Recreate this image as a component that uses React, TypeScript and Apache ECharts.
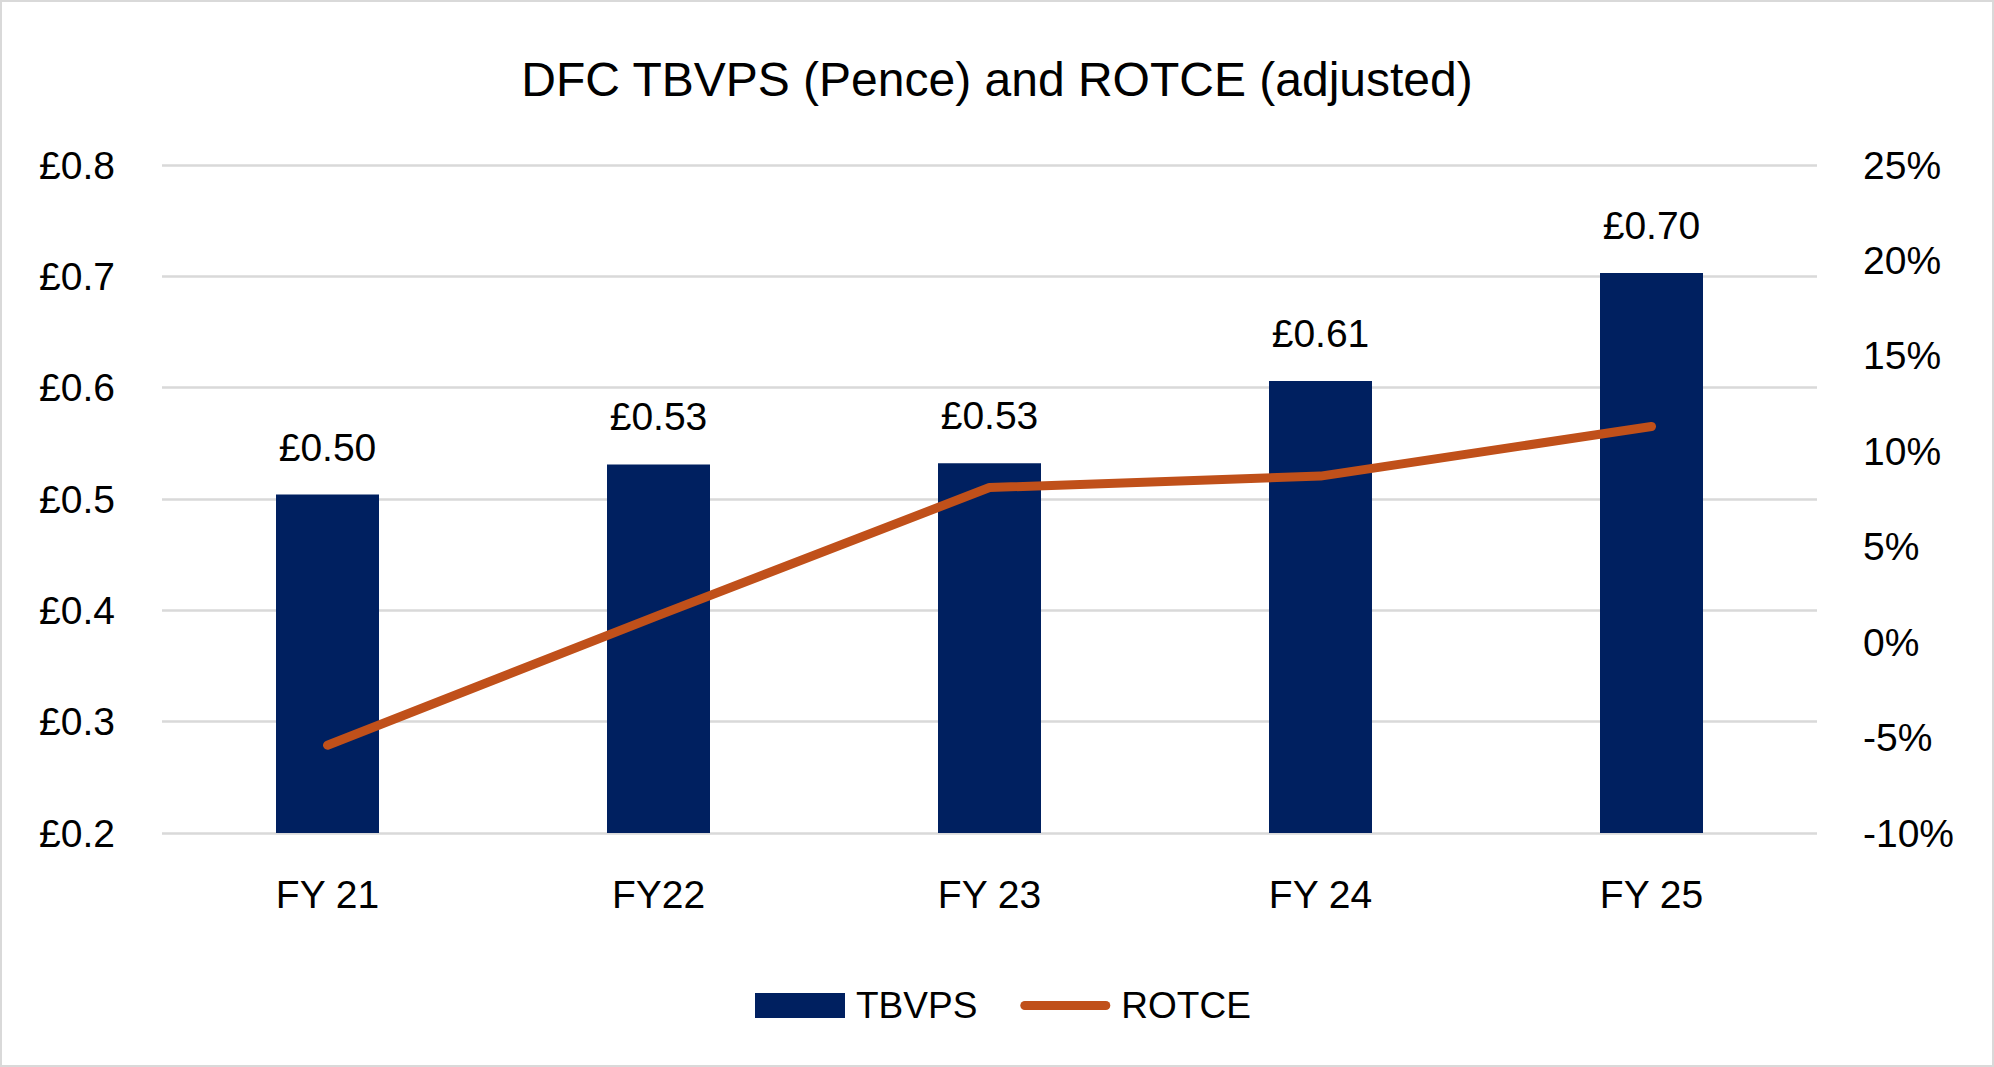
import React, { useEffect, useRef } from 'react';
import * as echarts from 'echarts';

const categories = ['FY 21', 'FY22', 'FY 23', 'FY 24', 'FY 25'];
const tbvps = [0.504, 0.531, 0.532, 0.606, 0.703];
const rotce = [-5.4, 1.4, 8.1, 8.7, 11.3];

const FONT = '"Liberation Sans", Arial, sans-serif';
const W = 1994;
const H = 1067;
const ORANGE = '#c0501a';
const NAVY = '#002060';

const App: React.FC = () => {
  const chartRef = useRef<HTMLDivElement>(null);

  useEffect(() => {
    document.body.style.margin = '0';
    if (!chartRef.current) return;
    const chart = echarts.init(chartRef.current, undefined, { renderer: 'svg' });
    chart.setOption({
      animation: false,
      backgroundColor: '#fff',
      textStyle: { fontFamily: FONT, color: '#000' },
      title: {
        text: 'DFC TBVPS (Pence) and ROTCE (adjusted)',
        left: 'center',
        top: 50,
        textStyle: { fontFamily: FONT, fontSize: 48, fontWeight: 'normal', color: '#000' },
      },
      graphic: [
        {
          type: 'rect',
          shape: { x: 1, y: 1, width: W - 2, height: H - 2 },
          style: { fill: 'none', stroke: '#d9d9d9', lineWidth: 2 },
          silent: true,
        },
      ],
      legend: {
        left: 750,
        top: 982,
        itemWidth: 90,
        itemHeight: 25,
        itemGap: 43,
        textStyle: { fontFamily: FONT, fontSize: 37, color: '#000', padding: [0, 0, 0, 6] },
        data: [
          { name: 'TBVPS', icon: 'rect', itemStyle: { color: NAVY } },
          {
            name: 'ROTCE',
            icon: 'path://M4.5,0 H85.5 A4.5,4.5 0 0 1 85.5,9 H4.5 A4.5,4.5 0 0 1 4.5,0 Z',
            itemStyle: { color: ORANGE },
          },
        ],
      },
      grid: { left: 162, right: 177, top: 165, bottom: 234, containLabel: false },
      xAxis: {
        type: 'category',
        data: categories,
        axisLine: { show: false },
        axisTick: { show: false },
        axisLabel: { fontFamily: FONT, fontSize: 39, color: '#000', margin: 42 },
      },
      yAxis: [
        {
          type: 'value',
          min: 0.2,
          max: 0.8,
          interval: 0.1,
          axisLine: { show: false },
          axisTick: { show: false },
          splitLine: { lineStyle: { color: '#d9d9d9', width: 2.5 } },
          axisLabel: {
            fontFamily: FONT,
            fontSize: 39,
            color: '#000',
            margin: 47,
            formatter: (v: number) => '£' + v.toFixed(1),
          },
        },
        {
          type: 'value',
          min: -10,
          max: 25,
          interval: 5,
          axisLine: { show: false },
          axisTick: { show: false },
          splitLine: { show: false },
          axisLabel: {
            fontFamily: FONT,
            fontSize: 39,
            color: '#000',
            margin: 46,
            formatter: (v: number) => v + '%',
          },
        },
      ],
      series: [
        {
          name: 'TBVPS',
          type: 'bar',
          data: tbvps,
          barWidth: 103,
          itemStyle: { color: NAVY },
          label: {
            show: true,
            position: 'top',
            distance: 28,
            fontFamily: FONT,
            fontSize: 39,
            color: '#000',
            formatter: (p: any) => '£' + Number(p.value).toFixed(2),
          },
        },
        {
          name: 'ROTCE',
          type: 'line',
          yAxisIndex: 1,
          data: rotce,
          symbol: 'none',
          lineStyle: { color: ORANGE, width: 9, cap: 'round', join: 'round' },
          itemStyle: { color: ORANGE },
        },
      ],
    });
    return () => chart.dispose();
  }, []);

  return <div ref={chartRef} style={{ width: W, height: H }} />;
};

export default App;
